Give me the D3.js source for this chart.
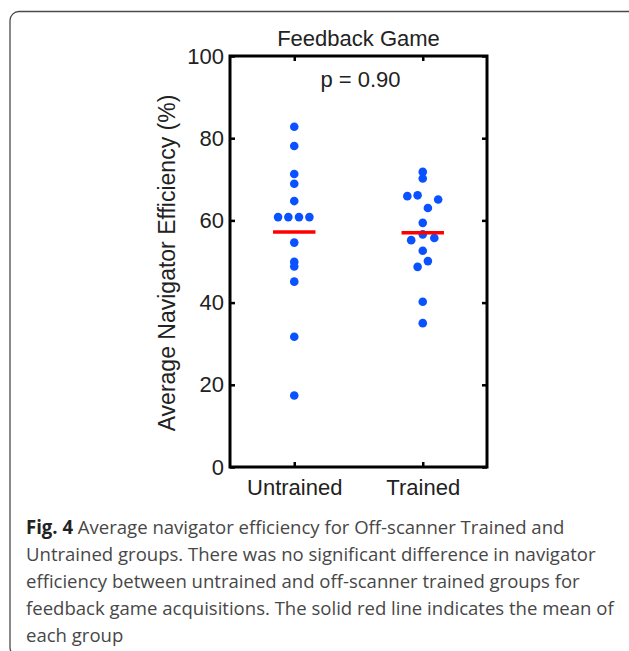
<!DOCTYPE html>
<html>
<head>
<meta charset="utf-8">
<script src="https://cdn.jsdelivr.net/npm/d3@7"></script>
<style>
body { margin: 0; background: #fff; }
svg { display: block; }
</style>
</head>
<body>
<script>
const width = 629;
const height = 651;

//-----------------------------DATA------------------------------//
const groups = ["Untrained", "Trained"];
// efficiency (%) of each subject, and its horizontal spread around the group
const untrainedValues = [82.8, 78.1, 71.3, 68.9, 64.7, 60.8, 60.8, 60.8, 60.8, 54.6, 49.9, 48.8, 45.1, 31.7, 17.4];
const untrainedJitter = [0, 0, 0, 0, 0, -0.126, -0.046, 0.037, 0.118, 0, 0, 0, 0, 0, 0];
const trainedValues = [71.8, 70.2, 65.9, 66.1, 65.1, 63.0, 59.4, 56.6, 55.2, 55.7, 52.6, 50.1, 48.7, 40.2, 35.0];
const trainedJitter = [0, 0, -0.12, -0.04, 0.12, 0.04, 0, 0, -0.09, 0.09, 0, 0.04, -0.04, 0, 0];
const groupMeans = [57.2, 57.0];
const yTicks = [0, 20, 40, 60, 80, 100];
const title = "Feedback Game";
const pLabel = "p = 0.90";
const yLabel = "Average Navigator Efficiency (%)";
const captionLines = [
  "Average navigator efficiency for Off-scanner Trained and",
  "Untrained groups. There was no significant difference in navigator",
  "efficiency between untrained and off-scanner trained groups for",
  "feedback game acquisitions. The solid red line indicates the mean of",
  "each group"
];

//-----------------------------SVG------------------------------//
const svg = d3.select("body").append("svg")
  .attr("width", width).attr("height", height);

// card frame
svg.append("rect")
  .attr("x", 10).attr("y", 11.5)
  .attr("width", 640).attr("height", 645)
  .attr("rx", 9)
  .attr("fill", "none")
  .attr("stroke", "#4a4a4a")
  .attr("stroke-width", 1.3);

const plot = { left: 230, right: 487, top: 56, bottom: 467 };
const g = svg.append("g");

//----------------------------SCALES-----------------------------//
const x = d3.scaleLinear().domain([0.5, 2.5]).range([plot.left, plot.right]);
const y = d3.scaleLinear().domain([0, 100]).range([plot.bottom, plot.top]);

//-----------------------------AXES------------------------------//
const font = "'Liberation Sans', Arial, sans-serif";

function styleAxis(sel, showText) {
  sel.select(".domain").remove();
  sel.selectAll(".tick line").attr("stroke", "#000").attr("stroke-width", 2.5);
  sel.selectAll(".tick text")
    .attr("fill", "#222")
    .style("font-family", font)
    .style("font-size", "22px")
    .style("display", showText ? null : "none");
}

g.append("g").attr("transform", "translate(" + plot.left + ",0)")
  .call(d3.axisLeft(y).tickValues(yTicks).tickSize(-5).tickPadding(6))
  .call(styleAxis, true);

g.append("g").attr("transform", "translate(" + plot.right + ",0)")
  .call(d3.axisRight(y).tickValues(yTicks).tickSize(-5))
  .call(styleAxis, false);

g.append("g").attr("transform", "translate(0," + plot.bottom + ")")
  .call(d3.axisBottom(x).tickValues([1, 2]).tickFormat(function(d) { return groups[d - 1]; })
    .tickSize(-5).tickPadding(12))
  .call(styleAxis, true);

g.append("g").attr("transform", "translate(0," + plot.top + ")")
  .call(d3.axisTop(x).tickValues([1, 2]).tickSize(-5))
  .call(styleAxis, false);

// axis box
g.append("rect")
  .attr("x", plot.left).attr("y", plot.top)
  .attr("width", plot.right - plot.left).attr("height", plot.bottom - plot.top)
  .attr("fill", "none").attr("stroke", "#000").attr("stroke-width", 3);

//----------------------------POINTS------------------------------//
const points = [];
untrainedValues.forEach(function(v, i) {
  points.push({ group: 1, off: untrainedJitter[i], value: v });
});
trainedValues.forEach(function(v, i) {
  points.push({ group: 2, off: trainedJitter[i], value: v });
});

g.selectAll(".dot").data(points).enter().append("circle")
  .attr("class", "dot")
  .attr("cx", function(d) { return x(d.group + d.off); })
  .attr("cy", function(d) { return y(d.value); })
  .attr("r", 4.3)
  .attr("fill", "#0a52ff");

// mean lines
g.selectAll(".mean").data(groupMeans).enter().append("line")
  .attr("class", "mean")
  .attr("x1", function(d, i) { return x(i + 1 - 0.165); })
  .attr("x2", function(d, i) { return x(i + 1 + 0.165); })
  .attr("y1", function(d) { return y(d); })
  .attr("y2", function(d) { return y(d); })
  .attr("stroke", "#ff0000")
  .attr("stroke-width", 3.5);

//-----------------------------TEXT------------------------------//
const cx = (plot.left + plot.right) / 2;
svg.append("text")
  .attr("x", cx).attr("y", 46)
  .attr("text-anchor", "middle")
  .style("font-family", font).style("font-size", "22px")
  .attr("fill", "#222")
  .text(title);

svg.append("text")
  .attr("x", cx + 2).attr("y", 87)
  .attr("text-anchor", "middle")
  .style("font-family", font).style("font-size", "22px")
  .attr("fill", "#222")
  .text(pLabel);

svg.append("text")
  .attr("transform", "translate(175," + 263 + ") rotate(-90)")
  .attr("text-anchor", "middle")
  .style("font-family", font).style("font-size", "23px")
  .attr("fill", "#222")
  .text(yLabel);

// caption
const cap = svg.append("g");
const capText = cap.append("text")
  .style("font-family", "'Open Sans', sans-serif")
  .style("font-size", "19px")
  .attr("fill", "#474747");

captionLines.forEach(function(line, i) {
  const t = capText.append("tspan").attr("x", 0).attr("y", i * 27);
  if (i === 0) {
    t.append("tspan").style("font-weight", "bold").attr("fill", "#222").text("Fig. 4");
    t.append("tspan").text(" " + line);
  } else {
    t.text(line);
  }
});

// squeeze caption horizontally so the long line spans its measured width
const probe = svg.append("text")
  .style("font-family", "'Open Sans', sans-serif")
  .style("font-size", "19px")
  .text(captionLines[3]);
const sx = 588 / probe.node().getComputedTextLength();
probe.remove();
cap.attr("transform", "translate(26,534) scale(" + sx + ",1)");
</script>
</body>
</html>
